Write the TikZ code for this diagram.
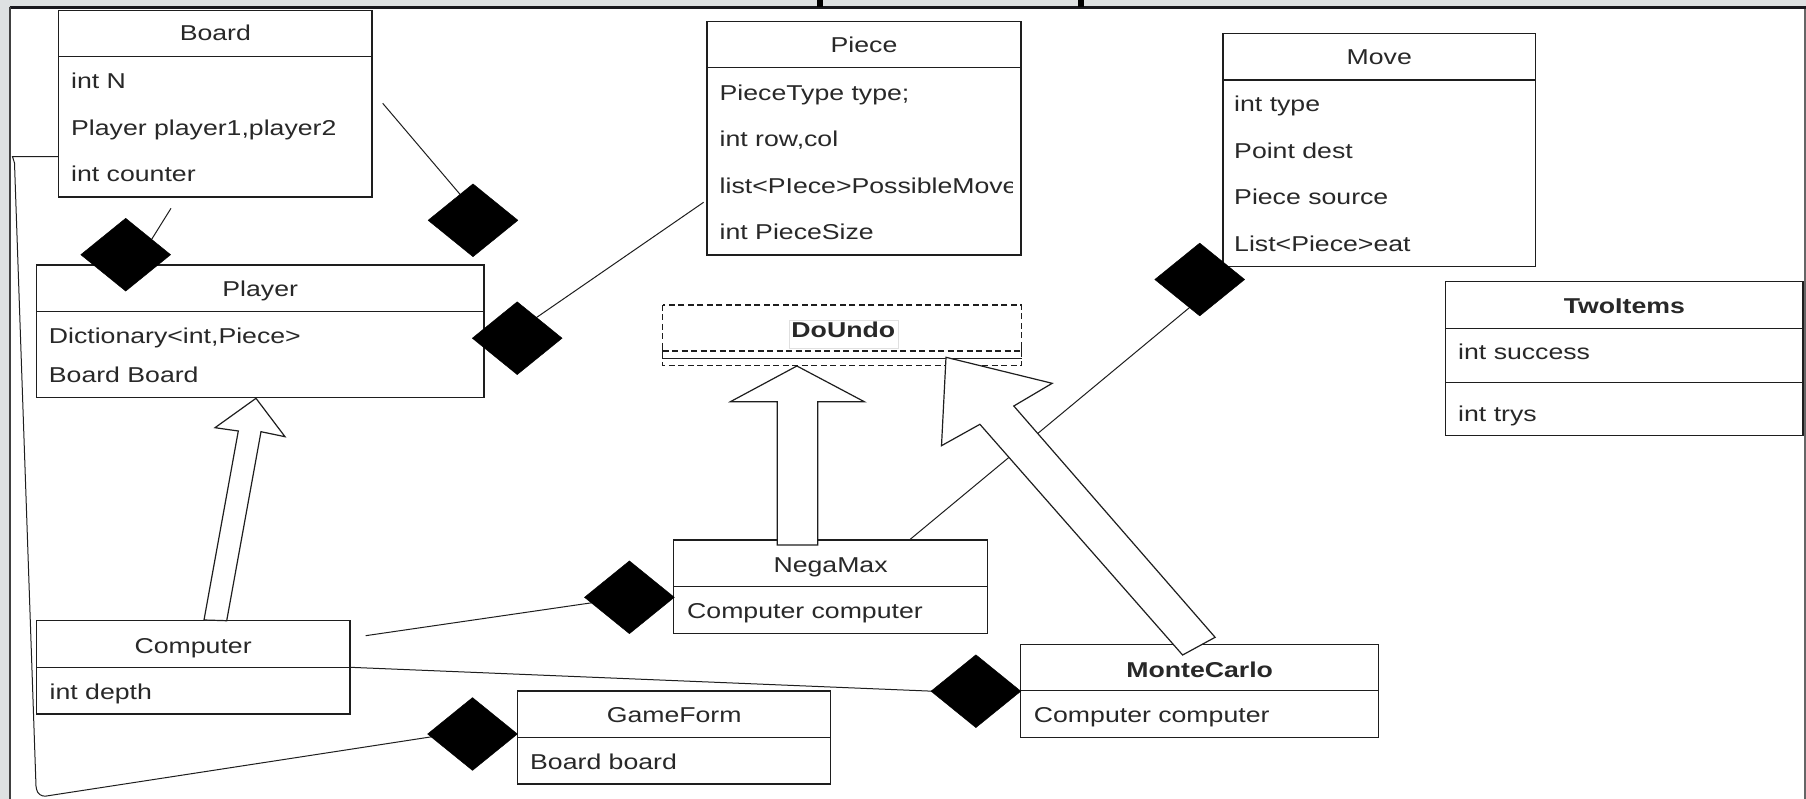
\documentclass[tikz,border=0pt]{standalone}
\usepackage{fontspec}
\setmainfont{Liberation Sans}[FakeStretch=1.24]
\usetikzlibrary{shapes.geometric}
\definecolor{txt}{RGB}{40,40,40}
\definecolor{bgc}{RGB}{222,225,226}
\definecolor{topc}{RGB}{25,25,30}
\definecolor{lc}{RGB}{30,30,30}
\tikzset{
  cls/.style={draw=lc, line width=1.3pt, fill=white, rectangle, inner sep=0pt},
  divl/.style={draw=lc, line width=1.3pt},
  ttl/.style={text=txt, inner sep=0pt, text height=15.4pt, text depth=0pt, font=\fontsize{21.5}{26}\selectfont},
  ttlb/.style={ttl, font=\fontsize{21.5}{26}\selectfont\bfseries},
  attr/.style={ttl, anchor=west},
  conn/.style={draw=lc, line width=1pt},
  gen/.style={draw=lc, line width=1.2pt, fill=white, line join=miter},
  comp/.style={diamond, fill=black, draw=black, line width=0.4pt, inner sep=0pt, minimum width=90pt, minimum height=73pt},
  dsh/.style={draw=lc, line width=1.3pt, dash pattern=on 6pt off 3.5pt},
}
\begin{document}
\begin{tikzpicture}[x=1pt,y=-1pt]
\useasboundingbox (0,0) rectangle (1806,799);
% frame
\fill[bgc] (0,0) rectangle (1806,799);
\fill[white] (11,9) rectangle (1803.5,799);
\draw[line width=3pt, topc] (9.5,7.5) -- (1806,7.5);
\draw[line width=2pt, black!75] (10,7) -- (10,799);
\draw[line width=2pt, black!60] (1804.5,9) -- (1804.5,799);
\fill[black] (816.5,0) rectangle (822.5,7.5);
\fill[black] (1077.5,0) rectangle (1084,7.5);

% connectors (under boxes)
\coordinate (c1a) at (171,208.3);   \coordinate (c1b) at (150,242);
\coordinate (c2a) at (382.7,103.3); \coordinate (c2b) at (464,199);
\coordinate (c3a) at (703.6,202.3); \coordinate (c3b) at (530,322);
\coordinate (c4a) at (910.2,539.3); \coordinate (c4b) at (1195,303);
\coordinate (c5a) at (365.6,635.7); \coordinate (c5b) at (595,602.3);
\coordinate (c6a) at (350,667.3);   \coordinate (c6b) at (940,691.5);
\coordinate (c7a) at (58.7,156.7);  \coordinate (c7b) at (440,735.5);
\draw[conn] (c1a) -- (c1b);
\draw[conn] (c2a) -- (c2b);
\draw[conn] (c3a) -- (c3b);
\draw[conn] (c4a) -- (c4b);
\draw[conn] (c5a) -- (c5b);
\draw[conn] (c6a) -- (c6b);
\draw[conn] (c7a) -- (12.5,156.7) -- (14.5,163) -- (36,786) [rounded corners=8pt] -- (38,797.3) -- (c7b);

% Board
\node[cls, minimum width=313.3pt, minimum height=186.3pt] (board) at (215.35,103.85) {};
\draw[divl] (58.7,56.7) -- (372,56.7);
\node[ttl] (boardT) at (215.35,33.3) {Board};
\node[attr] (boardA1) at (71,81) {int N};
\node[attr] (boardA2) at (71,127.7) {Player player1,player2};
\node[attr] (boardA3) at (71,174) {int counter};

% Player
\node[cls, minimum width=447.6pt, minimum height=132.3pt] (player) at (260.2,331.15) {};
\draw[divl] (36.4,311.7) -- (484,311.7);
\node[ttl] (playerT) at (260.2,289.3) {Player};
\node[attr] (playerA1) at (48.7,336) {Dictionary<int,Piece>};
\node[attr] (playerA2) at (48.7,375) {Board Board};

% Piece
\node[cls, minimum width=314pt, minimum height=233.3pt] (piece) at (864,138.35) {};
\draw[divl] (707,67.7) -- (1021,67.7);
\node[ttl] (pieceT) at (864,45) {Piece};
\node[attr] (pieceA1) at (719.5,92.7) {PieceType type;};
\node[attr] (pieceA2) at (719.5,139.3) {int row,col};
\begin{scope}
\clip (707,160) rectangle (1012,215);
\node[attr] (pieceA3) at (719.5,185.7) {list<PIece>PossibleMove};
\end{scope}
\node[attr] (pieceA4) at (719.5,231.7) {int PieceSize};

% Move
\node[cls, minimum width=312.5pt, minimum height=233.4pt] (move) at (1379.25,150) {};
\draw[divl] (1223,80) -- (1535.5,80);
\node[ttl] (moveT) at (1379.25,57.3) {Move};
\node[attr] (moveA1) at (1234,104) {int type};
\node[attr] (moveA2) at (1234,150.7) {Point dest};
\node[attr] (moveA3) at (1234,197.3) {Piece source};
\node[attr] (moveA4) at (1234,244) {List<Piece>eat};

% TwoItems
\node[cls, minimum width=357.3pt, minimum height=154pt] (two) at (1624.35,358.7) {};
\draw[divl] (1445.7,328.3) -- (1803,328.3);
\draw[divl] (1445.7,382.3) -- (1803,382.3);
\node[ttlb] (twoT) at (1624.35,306) {TwoItems};
\node[attr] (twoA1) at (1458,351.7) {int success};
\node[attr] (twoA2) at (1458,413.3) {int trys};

% DoUndo
\node[cls, draw=none, minimum width=359pt, minimum height=60.3pt] (doundo) at (842.2,335.15) {};
\draw[dsh] (662.7,305) rectangle (1021.7,365.3);
\draw[dsh] (662.7,351) -- (1021.7,351);
\draw[draw=lc, line width=1.3pt] (662.7,347.5) -- (662.7,354.5);
\draw[draw=lc, line width=1.3pt] (1021.7,347.5) -- (1021.7,354.5);
\draw[divl] (662.7,358.7) -- (1021.7,358.7);
\draw[draw=black!12, line width=0.8pt, fill=white] (789,320.7) rectangle (898,348.3);
\node[ttlb] (doundoT) at (843.3,330) {DoUndo};

% NegaMax
\node[cls, minimum width=313.8pt, minimum height=93.3pt] (nega) at (830.6,586.65) {};
\draw[divl] (673.7,586.7) -- (987.5,586.7);
\node[ttl] (negaT) at (830.6,565) {NegaMax};
\node[attr] (negaA1) at (687,611) {Computer computer};

% Computer
\node[cls, minimum width=313.9pt, minimum height=93.3pt] (comp) at (193.15,667.35) {};
\draw[divl] (36.2,667.3) -- (350.1,667.3);
\node[ttl] (compT) at (193.15,646) {Computer};
\node[attr] (compA1) at (49.5,692) {int depth};

% GameForm
\node[cls, minimum width=312.9pt, minimum height=93pt] (game) at (674.15,737.5) {};
\draw[divl] (517.7,737.7) -- (830.6,737.7);
\node[ttl] (gameT) at (674.15,715) {GameForm};
\node[attr] (gameA1) at (530,761.7) {Board board};

% MonteCarlo
\node[cls, minimum width=357.9pt, minimum height=93.4pt] (monte) at (1199.65,691) {};
\draw[divl] (1020.7,690.7) -- (1378.6,690.7);
\node[ttlb] (monteT) at (1199.65,670) {MonteCarlo};
\node[attr] (monteA1) at (1033.7,715) {Computer computer};

% generalisation arrows
\draw[gen] (204,620) -- (238.3,431) -- (215,427.7) -- (256,398.3) -- (285,436.7) -- (261,431.7) -- (226.7,620.7) -- cycle;
\draw[gen] (777.2,545) -- (777.2,401.7) -- (730.4,401.7) -- (796.9,366) -- (864.3,401.7) -- (817.8,401.7) -- (817.8,545) -- cycle;
\draw[gen] (1182.6,655) -- (979.9,424.3) -- (941.5,445.7) -- (946,357.3) -- (1052.2,383.3) -- (1013.8,406) -- (1215.1,637.3) -- cycle;

% composition diamonds
\node[comp] (d1) at (125.7,254.7) {};
\node[comp] (d2) at (473,220.3) {};
\node[comp] (d3) at (517.2,338.2) {};
\node[comp] (d4) at (1199.7,279.5) {};
\node[comp] (d5) at (629.4,597.3) {};
\node[comp] (d6) at (975.9,691.2) {};
\node[comp] (d7) at (472.5,734) {};
\end{tikzpicture}
\end{document}
